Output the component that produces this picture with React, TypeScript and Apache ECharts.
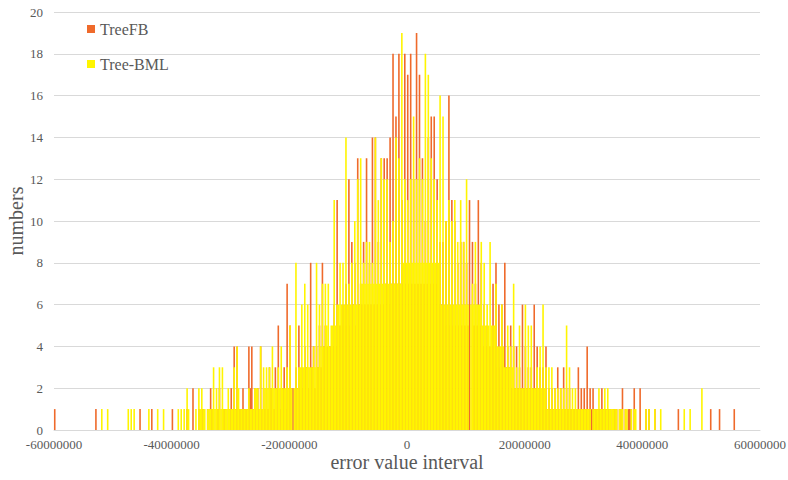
import React, { useEffect, useRef } from "react";
import * as echarts from "echarts";

// Histogram: each 500000-wide interval is drawn as two 250000-wide bins:
// the tallest bar read in that interval ("peak") and the level of the
// neighbouring bars ("base").
const BIN_START = -60000000;
const PAIR_WIDTH = 500000;
const SUB_WIDTH = 250000;

// TreeFB — tallest bar per interval
const treeFBPeak = [
  1, 0, 0, 0, 0, 0, 0, 0, 0, 0,
  0, 0, 0, 0, 1, 0, 0, 0, 0, 0,
  0, 0, 0, 0, 0, 0, 0, 0, 0, 1,
  0, 0, 0, 1, 0, 0, 0, 0, 0, 0,
  1, 0, 0, 0, 0, 1, 0, 2, 0, 1,
  1, 0, 1, 2, 1, 1, 2, 1, 1, 1,
  2, 4, 4, 1, 2, 1, 4, 4, 2, 2,
  4, 2, 2, 3, 2, 3, 5, 2, 3, 7,
  5, 2, 3, 5, 3, 4, 3, 8, 4, 4,
  5, 8, 5, 4, 4, 6, 11, 5, 6, 7,
  12, 9, 8, 13, 7, 9, 13, 8, 14, 14,
  9, 13, 13, 13, 14, 18, 15, 18, 11, 18,
  17, 18, 12, 19, 17, 13, 10, 14, 15, 15,
  12, 9, 9, 10, 16, 11, 10, 8, 9, 9,
  8, 11, 9, 7, 11, 8, 6, 5, 4, 7,
  8, 6, 6, 8, 4, 5, 4, 4, 3, 6,
  4, 3, 3, 6, 4, 3, 3, 4, 2, 2,
  2, 3, 2, 3, 2, 2, 1, 1, 3, 2,
  2, 4, 2, 2, 1, 1, 2, 1, 1, 1,
  1, 1, 1, 2, 1, 1, 1, 2, 0, 2,
  0, 1, 1, 0, 1, 0, 0, 0, 0, 0,
  0, 0, 1, 0, 0, 0, 0, 0, 0, 0,
  0, 0, 0, 1, 0, 0, 1, 0, 0, 0,
  0, 1, 0, 0, 0, 0, 0, 0, 0, 0,
];

// TreeFB — level of the neighbouring bars per interval
const treeFBBase = [
  0, 0, 0, 0, 0, 0, 0, 0, 0, 0,
  0, 0, 0, 0, 0, 0, 0, 0, 0, 0,
  0, 0, 0, 0, 0, 0, 0, 0, 0, 0,
  0, 0, 0, 0, 0, 0, 0, 0, 0, 0,
  0, 0, 0, 0, 0, 0, 0, 0, 0, 0,
  1, 0, 0, 1, 0, 1, 0, 1, 0, 1,
  1, 1, 1, 1, 1, 1, 2, 1, 1, 1,
  1, 1, 1, 2, 1, 2, 1, 2, 1, 2,
  2, 0, 2, 2, 2, 3, 2, 3, 2, 3,
  3, 4, 4, 4, 4, 4, 5, 5, 5, 5,
  5, 6, 5, 6, 6, 6, 6, 6, 6, 6,
  6, 6, 7, 6, 7, 7, 7, 7, 7, 7,
  7, 7, 7, 7, 7, 7, 7, 7, 7, 7,
  6, 6, 5, 5, 5, 5, 5, 5, 5, 5,
  5, 0, 5, 5, 5, 4, 4, 4, 4, 4,
  3, 3, 3, 3, 3, 2, 2, 2, 2, 2,
  2, 2, 2, 2, 2, 1, 1, 1, 1, 1,
  1, 1, 1, 1, 1, 1, 1, 1, 1, 1,
  1, 1, 1, 1, 1, 1, 1, 1, 1, 0,
  1, 0, 1, 0, 0, 1, 0, 0, 0, 0,
  0, 0, 0, 0, 0, 0, 0, 0, 0, 0,
  0, 0, 0, 0, 0, 0, 0, 0, 0, 0,
  0, 0, 0, 0, 0, 0, 0, 0, 0, 0,
  0, 0, 0, 0, 0, 0, 0, 0, 0, 0,
];

// Tree-BML — tallest bar per interval
const treeBMLPeak = [
  0, 0, 0, 0, 0, 0, 0, 0, 0, 0,
  0, 0, 0, 0, 0, 0, 1, 0, 1, 0,
  0, 0, 0, 0, 0, 1, 1, 1, 0, 0,
  0, 0, 1, 0, 0, 1, 0, 1, 0, 0,
  0, 0, 1, 1, 1, 2, 0, 0, 1, 2,
  2, 1, 1, 1, 3, 2, 3, 3, 1, 2,
  1, 3, 4, 1, 1, 1, 2, 1, 2, 2,
  4, 3, 3, 3, 4, 2, 3, 4, 2, 3,
  5, 0, 8, 3, 6, 7, 6, 3, 4, 8,
  6, 7, 7, 7, 5, 11, 6, 8, 8, 14,
  7, 8, 10, 12, 13, 8, 9, 9, 8, 14,
  11, 13, 12, 12, 9, 10, 14, 13, 19, 12,
  11, 12, 15, 12, 13, 12, 18, 17, 13, 12,
  11, 16, 15, 10, 11, 10, 11, 9, 11, 9,
  12, 0, 7, 9, 6, 9, 8, 6, 9, 5,
  7, 4, 6, 3, 5, 4, 7, 3, 5, 2,
  6, 5, 5, 2, 3, 4, 6, 3, 3, 3,
  2, 2, 2, 2, 5, 3, 2, 2, 1, 1,
  1, 1, 1, 1, 1, 2, 1, 2, 2, 1,
  1, 1, 1, 1, 1, 0, 1, 1, 0, 0,
  0, 1, 1, 0, 1, 0, 1, 0, 0, 0,
  0, 0, 0, 0, 1, 0, 1, 0, 0, 0,
  2, 0, 0, 0, 0, 0, 0, 0, 0, 0,
  0, 0, 0, 0, 0, 0, 0, 0, 0, 0,
];

// Tree-BML — level of the neighbouring bars per interval
const treeBMLBase = [
  0, 0, 0, 0, 0, 0, 0, 0, 0, 0,
  0, 0, 0, 0, 0, 0, 0, 0, 0, 0,
  0, 0, 0, 0, 0, 0, 0, 0, 0, 0,
  0, 0, 0, 0, 0, 0, 0, 0, 0, 0,
  0, 0, 0, 0, 0, 1, 0, 0, 0, 1,
  1, 0, 1, 1, 1, 1, 1, 1, 1, 1,
  1, 1, 2, 1, 1, 1, 1, 1, 2, 1,
  1, 2, 2, 2, 2, 2, 2, 2, 2, 2,
  2, 2, 2, 3, 3, 3, 3, 3, 3, 3,
  4, 4, 5, 4, 5, 5, 6, 6, 6, 6,
  6, 6, 6, 6, 7, 7, 7, 7, 7, 7,
  7, 7, 7, 7, 7, 7, 7, 7, 8, 8,
  8, 8, 8, 8, 8, 8, 8, 8, 8, 8,
  8, 6, 6, 6, 6, 6, 6, 6, 6, 6,
  6, 6, 6, 6, 6, 5, 5, 5, 5, 5,
  4, 4, 4, 3, 3, 3, 2, 2, 2, 2,
  2, 2, 2, 2, 2, 2, 2, 1, 1, 1,
  1, 1, 1, 1, 1, 1, 1, 1, 1, 1,
  1, 1, 0, 1, 1, 1, 1, 1, 1, 1,
  1, 0, 1, 0, 1, 0, 0, 1, 0, 0,
  0, 0, 0, 0, 0, 0, 0, 0, 0, 0,
  0, 0, 0, 0, 0, 0, 0, 0, 0, 0,
  0, 0, 0, 0, 0, 0, 0, 0, 0, 0,
  0, 0, 0, 0, 0, 0, 0, 0, 0, 0,
];

const seriesNames = ["TreeFB", "Tree-BML"];
const seriesColors = ["#EF6A2B", "#FFF500"];

const X_MIN = -60000000;
const X_MAX = 60000000;
const X_INTERVAL = 20000000;
const Y_MIN = 0;
const Y_MAX = 20;
const Y_INTERVAL = 2;

const FONT = "'Liberation Serif', 'Times New Roman', serif";
const TEXT = "#595959";

function toPoints(peak: number[], base: number[]) {
  const pts: number[][] = [];
  peak.forEach((p, i) => {
    const start = BIN_START + i * PAIR_WIDTH;
    if (p > 0) pts.push([start + SUB_WIDTH * 0.5, p]);
    const b = base[i];
    if (b > 0) pts.push([start + SUB_WIDTH * 1.5, b]);
  });
  return pts;
}

export default function App() {
  const ref = useRef<HTMLDivElement>(null);
  useEffect(() => {
    if (!ref.current) return;
    const chart = echarts.init(ref.current, null, { renderer: "svg" });
    chart.setOption({
      animation: false,
      backgroundColor: "#ffffff",
      textStyle: { fontFamily: FONT },
      grid: {
        left: 54,
        right: 28,
        top: 12,
        bottom: 50,
        containLabel: false,
        outerBoundsMode: "none",
      },
      legend: {
        data: seriesNames,
        orient: "vertical",
        left: 82,
        top: 16,
        itemWidth: 8,
        itemHeight: 8,
        itemGap: 19,
        icon: "rect",
        textStyle: { fontSize: 16, color: TEXT, fontFamily: FONT },
      },
      xAxis: {
        type: "value",
        min: X_MIN,
        max: X_MAX,
        interval: X_INTERVAL,
        name: "error value interval",
        nameLocation: "middle",
        nameGap: 22,
        nameMoveOverlap: false,
        nameTextStyle: { fontSize: 20, color: TEXT, fontFamily: FONT },
        axisLine: { show: true, onZero: false, lineStyle: { color: "#D9D9D9", width: 1 } },
        axisTick: { show: false },
        splitLine: { show: false },
        axisLabel: {
          fontSize: 13,
          color: TEXT,
          margin: 8,
          fontFamily: FONT,
          formatter: (v: number) => String(v),
        },
      },
      yAxis: {
        type: "value",
        min: Y_MIN,
        max: Y_MAX,
        interval: Y_INTERVAL,
        name: "numbers",
        nameLocation: "middle",
        nameGap: 28,
        nameMoveOverlap: false,
        nameRotate: 90,
        nameTextStyle: { fontSize: 20, color: TEXT, fontFamily: FONT },
        axisLine: { show: false, onZero: false },
        axisTick: { show: false },
        splitLine: { show: true, lineStyle: { color: "#D9D9D9", width: 1 } },
        axisLabel: { fontSize: 13, color: TEXT, margin: 11, fontFamily: FONT },
      },
      series: [
        {
          name: seriesNames[0],
          type: "bar",
          data: toPoints(treeFBPeak, treeFBBase),
          barWidth: 1.6,
          barGap: "-100%",
          itemStyle: { color: seriesColors[0] },
          silent: true,
        },
        {
          name: seriesNames[1],
          type: "bar",
          data: toPoints(treeBMLPeak, treeBMLBase),
          barWidth: 1.6,
          barGap: "-100%",
          itemStyle: { color: seriesColors[1] },
          silent: true,
        },
      ],
    });
    return () => chart.dispose();
  }, []);
  return (
    <div
      ref={ref}
      style={{ position: "fixed", left: 0, top: 0, width: 788, height: 480, background: "#fff" }}
    />
  );
}
